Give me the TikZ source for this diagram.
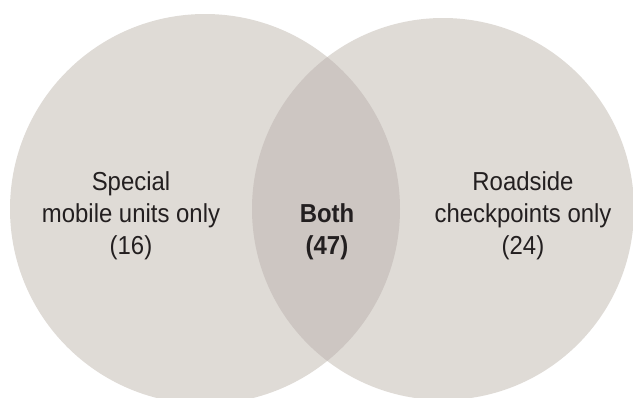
\documentclass[tikz,border=0pt]{standalone}
\usepackage{fontspec}
\setmainfont[FakeStretch=0.92]{Liberation Sans}
\usetikzlibrary{positioning}
\definecolor{setfill}{HTML}{DFDBD6}
\definecolor{bothfill}{HTML}{CDC6C2}
\definecolor{labeltext}{HTML}{231F20}
\tikzset{
	label text/.style={align=center, text=labeltext, font=\fontsize{26}{32}\selectfont},
}

\begin{document}
\begin{tikzpicture}[x=1pt, y=-1pt]
			\useasboundingbox (0,0) rectangle (633,397);
			\clip (0,0) rectangle (633,397);
			\node (mobile) at (205, 209) [circle, minimum size=390pt, inner sep=0pt, fill=setfill] {};
			\node (roadside) at (443, 209) [circle, minimum size=382pt, inner sep=0pt, fill=setfill] {};
			\begin{scope}
				\clip (mobile.center) circle (195pt);
				\fill[bothfill] (roadside.center) circle (191pt);
			\end{scope}
			
			\node (mobiletext) at (131, 216) [label text] {Special\\mobile units only\\(16)};
			\node (bothtext) at (327, 232) [label text] {\bfseries Both\\\bfseries (47)};
			\node (roadsidetext) at (523, 216) [label text] {Roadside\\checkpoints only\\(24)};
		\end{tikzpicture}
\end{document}
